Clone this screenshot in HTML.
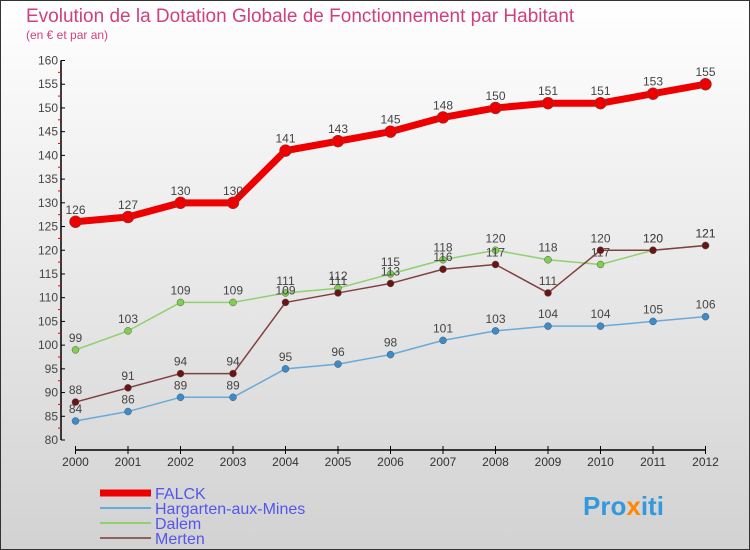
<!DOCTYPE html>
<html><head><meta charset="utf-8"><style>
body{margin:0;}
#wrap{width:750px;height:550px;position:relative;overflow:hidden;font-family:"Liberation Sans",sans-serif;}
svg{display:block}
</style></head><body>
<div id="wrap">
<svg id="chart" width="750" height="550">
<defs><linearGradient id="bg" x1="0" y1="0" x2="0" y2="1"><stop offset="0" stop-color="#ffffff"/><stop offset="1" stop-color="#d2d2d2"/></linearGradient></defs>
<rect x="0.5" y="0.5" width="749" height="549" fill="url(#bg)" stroke="#333"/>
<text x="26" y="22" font-size="19" fill="#d04080">Evolution de la Dotation Globale de Fonctionnement par Habitant</text>
<text x="26" y="39" font-size="12" fill="#d04080">(en € et par an)</text>
<g id="axes"></g><g id="series"></g><g id="legend"></g>
<text x="583" y="515" font-size="26" font-weight="bold" fill="#3399dd">Pro<tspan fill="#ff8800">x</tspan>iti</text>
</svg></div>
<script>
const years=["2000","2001","2002","2003","2004","2005","2006","2007","2008","2009","2010","2011","2012"];
const falck=[126,127,130,130,141,143,145,148,150,151,151,153,155];
const hargarten=[84,86,89,89,95,96,98,101,103,104,104,105,106];
const dalem=[99,103,109,109,111,112,115,118,120,118,117,120,121];
const merten=[88,91,94,94,109,111,113,116,117,111,120,120,121];
const yTicks=[80,85,90,95,100,105,110,115,120,125,130,135,140,145,150,155,160];
const NS="http://www.w3.org/2000/svg";
function X(i){return 75.5+i*52.5;}
function Y(v){return 440-(v-80)*(379.5/80);}
function mk(tag,attrs,parent){const e=document.createElementNS(NS,tag);for(const k in attrs)e.setAttribute(k,attrs[k]);parent.appendChild(e);return e;}
const axes=document.getElementById('axes');
let yl=mk('line',{x1:61,y1:Y(160),x2:61,y2:Y(80),stroke:'#000','stroke-width':1.5},axes);


yTicks.forEach(v=>{
 mk('line',{x1:61,y1:Y(v),x2:65,y2:Y(v),stroke:'#000'},axes);
 if(v<160){let m=mk('line',{x1:58,y1:Y(v+2.5),x2:61,y2:Y(v+2.5),stroke:'#e00'},axes);}
 const t=mk('text',{x:58,y:Y(v)+4,'font-size':12,fill:'#444','text-anchor':'end'},axes);
 t.textContent=v;
 
 
});
let xl=mk('line',{x1:X(0),y1:450,x2:X(12),y2:450,stroke:'#000','stroke-width':1.5},axes);


years.forEach((y,i)=>{
 mk('line',{x1:X(i),y1:446,x2:X(i),y2:454,stroke:'#000'},axes);
 const t=mk('text',{x:X(i),y:466,'font-size':12,fill:'#333','text-anchor':'middle'},axes);
 t.textContent=y;
 
 
});
const ser=document.getElementById('series');
function draw(vals,color,w,r,dot,name){
 const g=mk('g',{},ser);
 
 
 const l=mk('polyline',{points:vals.map((v,i)=>X(i)+','+Y(v)).join(' '),fill:'none',stroke:color,'stroke-width':w,'stroke-linejoin':'round'},g);
 
 
 vals.forEach((v,i)=>{
  const c=mk('circle',{cx:X(i),cy:Y(v),r:r,fill:dot,stroke:'#555','stroke-width':0.5},g);
  
  
  const t=mk('text',{x:X(i),y:Y(v)-8,'font-size':12,fill:'#444','text-anchor':'middle'},g);
  t.textContent=v;
  
  
 });
}
draw(hargarten,'#6aaad8',1.5,3.5,'#3a8ccc','hargarten');
draw(dalem,'#90d070',1.5,3.5,'#80d050','dalem');
draw(merten,'#804040',1.5,3.5,'#6a1515','merten');
draw(falck,'#ee0000',7,6,'#ee0000','falck');
const leg=document.getElementById('legend');
const items=[["FALCK","#ee0000",7],["Hargarten-aux-Mines","#6aaad8",2],["Dalem","#90d070",2],["Merten","#906060",2]];
items.forEach((it,i)=>{
 const y=493+i*15;
 const g=mk('g',{},leg);
 
 
 mk('line',{x1:100,y1:y,x2:151,y2:y,stroke:it[1],'stroke-width':it[2]},g);
 const t=mk('text',{x:155,y:y+6,'font-size':16,fill:'#5555ee'},g);
 t.textContent=it[0];
});
</script></body></html>
